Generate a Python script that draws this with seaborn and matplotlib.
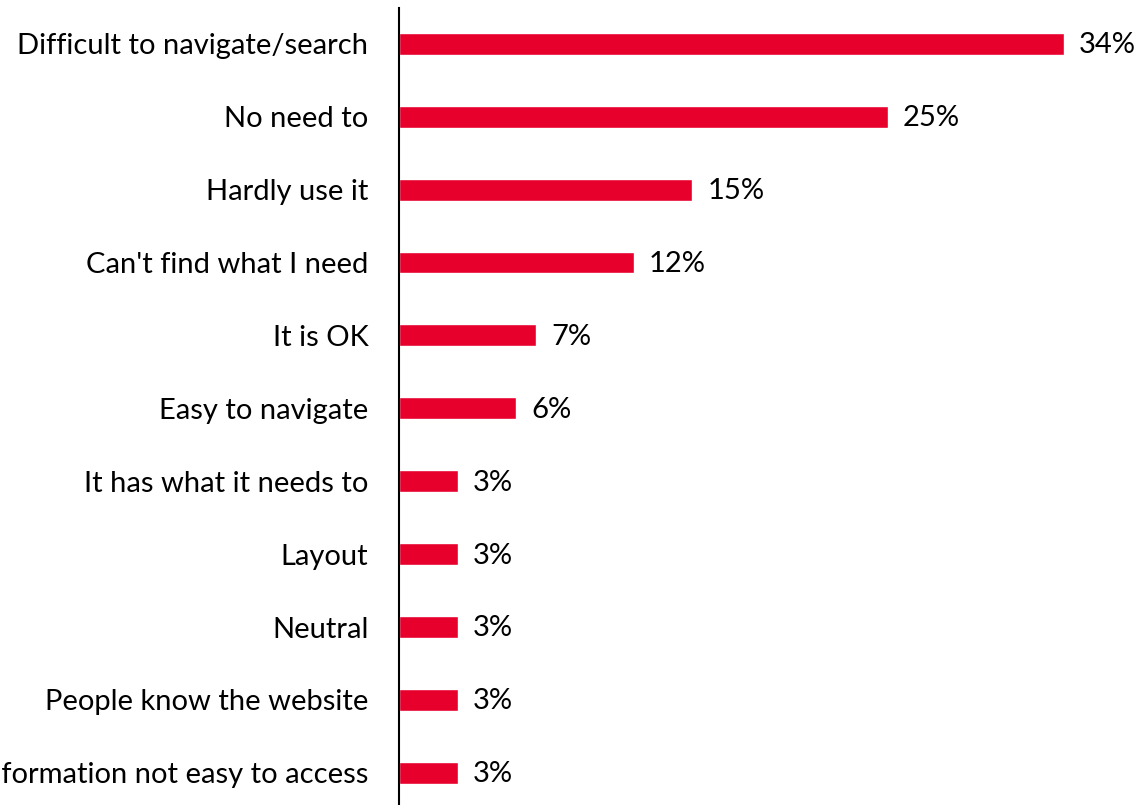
import matplotlib
matplotlib.use("Agg")
import matplotlib.pyplot as plt
import seaborn as sns
import pandas as pd

# Reasons given about the website, share of respondents (%)
reasons = [
    "Difficult to navigate/search",
    "No need to",
    "Hardly use it",
    "Can't find what I need",
    "It is OK",
    "Easy to navigate",
    "It has what it needs to",
    "Layout",
    "Neutral",
    "People know the website",
    "Information not easy to access",
]
shares = [34, 25, 15, 12, 7, 6, 3, 3, 3, 3, 3]

df = pd.DataFrame({"reason": reasons, "share": shares})

sns.set_theme(style="white")
plt.rcParams["font.family"] = ["Lato", "DejaVu Sans"]

BAR_RED = "#E8002D"
FS = 21

fig = plt.figure(figsize=(11.4, 8.05), dpi=100)
ax = fig.add_axes([399 / 1140, 0.0, 1 - 399 / 1140, (805 - 8) / 805])

sns.barplot(data=df, y="reason", x="share", orient="h", color=BAR_RED,
            width=0.30, saturation=1, ax=ax)

ax.set_xlim(0, 37.9)
ax.set_ylim(len(reasons) - 1 + 0.44, -0.49)

for i, v in enumerate(shares):
    ax.annotate(f"{v}%", xy=(v, i), xytext=(11, -1), textcoords="offset points",
                va="center", ha="left", fontsize=FS, color="#000000",
                annotation_clip=False)

ax.set_xlabel("")
ax.set_ylabel("")
ax.set_xticks([])
ax.tick_params(axis="y", length=0, pad=22, labelsize=FS, labelcolor="#000000")
for side in ["top", "right", "bottom"]:
    ax.spines[side].set_visible(False)
ax.spines["left"].set_color("#000000")
ax.spines["left"].set_linewidth(1.5)

fig.savefig("out.png", dpi=100)
